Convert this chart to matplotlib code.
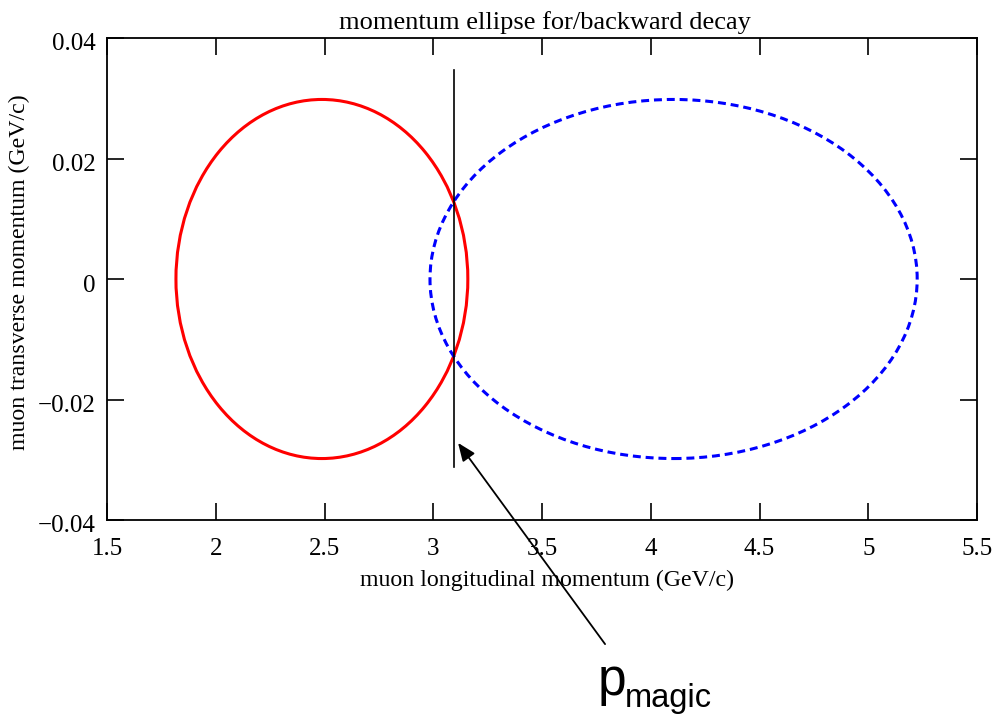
import matplotlib
matplotlib.use("Agg")
import matplotlib.pyplot as plt
import matplotlib.transforms as mtransforms
from matplotlib.patches import Ellipse

# Data
ellipse_names = ["backward", "forward"]
ellipse_center_pl = [2.488, 4.105]      # GeV/c, longitudinal centre
ellipse_halfwidth_pl = [0.671, 1.12]    # GeV/c
ellipse_halfheight_pt = [0.0298, 0.0298]  # GeV/c
ellipse_colors = ["#ff0000", "#0000ff"]
ellipse_styles = ["-", (0, (2.6, 1.6))]

p_magic = 3.095
p_magic_line_y = [-0.0312, 0.0347]
arrow_tail = (3.79, -0.0606)
arrow_head = (3.114, -0.0272)

x_ticks = [1.5, 2, 2.5, 3, 3.5, 4, 4.5, 5, 5.5]
x_tick_labels = ["1.5", "2", "2.5", "3", "3.5", "4", "4.5", "5", "5.5"]
y_ticks = [-0.04, -0.02, 0, 0.02, 0.04]
y_tick_labels = ["\u22120.04", "\u22120.02", "0", "0.02", "0.04"]

plt.rcParams["font.family"] = ["Liberation Serif", "DejaVu Serif"]

fig = plt.figure(figsize=(10.01, 7.15), dpi=100)
ax = fig.add_axes([107 / 1001, 1 - 520 / 715, 870 / 1001, 482 / 715])

for cx, hw, hh, col, ls in zip(ellipse_center_pl, ellipse_halfwidth_pl,
                               ellipse_halfheight_pt, ellipse_colors, ellipse_styles):
    ax.add_patch(Ellipse((cx, 0), 2 * hw, 2 * hh, fill=False, edgecolor=col,
                         linewidth=2.2, linestyle=ls))

ax.plot([p_magic, p_magic], p_magic_line_y, color="black", linewidth=1.2)

ax.annotate("", xy=arrow_head, xytext=arrow_tail, xycoords="data",
            textcoords="data", annotation_clip=False,
            arrowprops=dict(arrowstyle="-|>,head_length=1.1,head_width=0.45",
                            color="black", linewidth=1.3, shrinkA=0, shrinkB=0))
fig.text(598 / 1001, 1 - 695 / 715, "p", fontsize=37, family="Liberation Sans",
         ha="left", va="baseline")
fig.text(625 / 1001, 1 - 707 / 715, "magic", fontsize=23.5, family="Liberation Sans",
         ha="left", va="baseline")

ax.set_xlim(1.5, 5.5)
ax.set_ylim(-0.04, 0.04)
ax.set_xticks(x_ticks)
ax.set_xticklabels(x_tick_labels)
ax.set_yticks(y_ticks)
ax.set_yticklabels(y_tick_labels)
ax.tick_params(direction="in", length=12, width=1.2, top=True, right=True,
               labelsize=18, pad=13)
ax.tick_params(axis="y", pad=8)
for s in ax.spines.values():
    s.set_linewidth(1.3)

shift = mtransforms.ScaledTranslation(0, -4 / 100, fig.dpi_scale_trans)
for lab in ax.get_yticklabels():
    lab.set_transform(lab.get_transform() + shift)

ax.set_title("momentum ellipse for/backward decay", fontsize=19, pad=6.5, x=0.503)
ax.set_xlabel("muon longitudinal momentum (GeV/c)", fontsize=17.2)
ax.set_ylabel("muon transverse momentum (GeV/c)", fontsize=17.2)
ax.xaxis.set_label_coords(0.5063, -0.103)
ax.yaxis.set_label_coords(-0.0885, 0.514)

fig.savefig("out.png", dpi=100)
